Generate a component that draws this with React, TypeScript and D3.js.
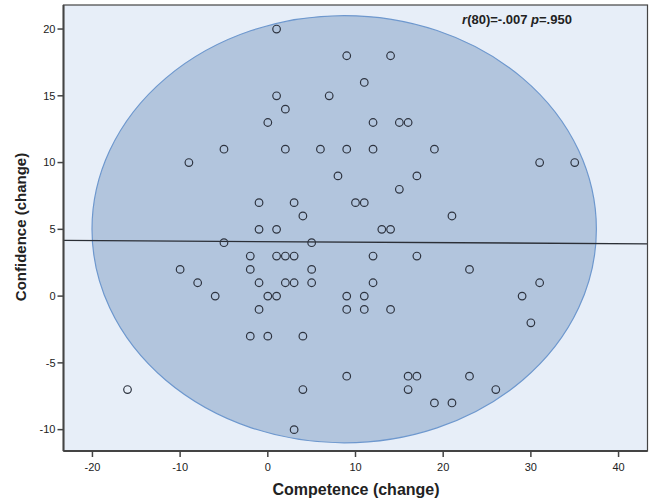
import React from "react";
import * as d3 from "d3";

const competence = [1, 9, 14, 11, 1, 7, 2, 0, 12, 15, 16, -5, 2, 6, 9, 12, 19, -9, 31, 35, 8, 17, 15, -1, 3, 10, 11, 4, 21, -1, 1, 13, 14, -5, 5, -2, 1, 2, 3, 12, 17, -10, -2, 5, 23, -8, -1, 2, 3, 5, 12, 31, -6, 0, 1, 9, 11, 29, -1, 9, 11, 14, 30, -2, 0, 4, 9, 16, 17, 23, -16, 4, 16, 26, 19, 21, 3];
const confidence = [20, 18, 18, 16, 15, 15, 14, 13, 13, 13, 13, 11, 11, 11, 11, 11, 11, 10, 10, 10, 9, 9, 8, 7, 7, 7, 7, 6, 6, 5, 5, 5, 5, 4, 4, 3, 3, 3, 3, 3, 3, 2, 2, 2, 2, 1, 1, 1, 1, 1, 1, 1, 0, 0, 0, 0, 0, 0, -1, -1, -1, -1, -2, -3, -3, -3, -6, -6, -6, -6, -7, -7, -7, -7, -8, -8, -10];

const xTicks = [-20, -10, 0, 10, 20, 30, 40];
const yTicks = [-10, -5, 0, 5, 10, 15, 20];

const ellipseCenter = [8.71, 5.01];
const ellipseRadii = [28.76, 16.0];
const regIntercept = 4.08;
const regSlope = -0.00375;

export default function App() {
  const W = 649, H = 500;
  const left = 63.5, right = 647.5, top = 5, bottom = 451;
  const x = d3.scaleLinear().domain([-23.3, 43.3]).range([left, right]);
  const y = d3.scaleLinear().domain([-11.6, 21.8]).range([bottom, top]);
  const [x0, x1] = x.domain();
  const font = "'Liberation Sans', Arial, sans-serif";

  return (
    <svg width={W} height={H} style={{ position: "absolute", left: 0, top: 0, background: "#fff" }} fontFamily={font}>
      <defs>
        <clipPath id="plot">
          <rect x={left} y={top} width={right - left} height={bottom - top} />
        </clipPath>
      </defs>
      <rect x={left} y={top} width={right - left} height={bottom - top} fill="#E7EEF8" />
      <g clipPath="url(#plot)">
        <ellipse
          cx={x(ellipseCenter[0])}
          cy={y(ellipseCenter[1])}
          rx={x(ellipseCenter[0] + ellipseRadii[0]) - x(ellipseCenter[0])}
          ry={y(ellipseCenter[1]) - y(ellipseCenter[1] + ellipseRadii[1])}
          fill="#B2C5DD"
          stroke="#6E98CE"
          strokeWidth={1.2}
        />
        <line
          x1={x(x0)} y1={y(regIntercept + regSlope * x0)}
          x2={x(x1)} y2={y(regIntercept + regSlope * x1)}
          stroke="#2b2f36" strokeWidth={1.3}
        />
        {competence.map((c, i) => (
          <circle key={i} cx={x(c)} cy={y(confidence[i])} r={3.8} fill="none" stroke="#2e3440" strokeWidth={1.2} />
        ))}
      </g>
      <rect x={left} y={top} width={right - left} height={bottom - top} fill="none" stroke="#444" strokeWidth={1.2} />
      <line x1={left} y1={top} x2={left} y2={bottom} stroke="#444" strokeWidth={2} />
      <line x1={left} y1={bottom} x2={right} y2={bottom} stroke="#444" strokeWidth={2} />
      {xTicks.map(t => (
        <g key={t} transform={`translate(${x(t)},${bottom})`}>
          <line y1={0} y2={6} stroke="#444" strokeWidth={1.5} />
          <text y={20} textAnchor="middle" fontSize={11} fill="#222">{t}</text>
        </g>
      ))}
      {yTicks.map(t => (
        <g key={t} transform={`translate(${left},${y(t)})`}>
          <line x1={0} x2={-6} stroke="#444" strokeWidth={1.5} />
          <text x={-8} dy="0.35em" textAnchor="end" fontSize={11} fill="#222">{t}</text>
        </g>
      ))}
      <text x={356} y={495} textAnchor="middle" fontSize={16} fontWeight="bold" fill="#222">Competence (change)</text>
      <text transform={`translate(26,227) rotate(-90)`} textAnchor="middle" fontSize={15} fontWeight="bold" fill="#222">Confidence (change)</text>
      <text x={517} y={24} textAnchor="middle" fontSize={13} fontWeight="bold" fill="#222">
        <tspan fontStyle="italic">r</tspan>(80)=-.007 <tspan fontStyle="italic">p</tspan>=.950
      </text>
    </svg>
  );
}
